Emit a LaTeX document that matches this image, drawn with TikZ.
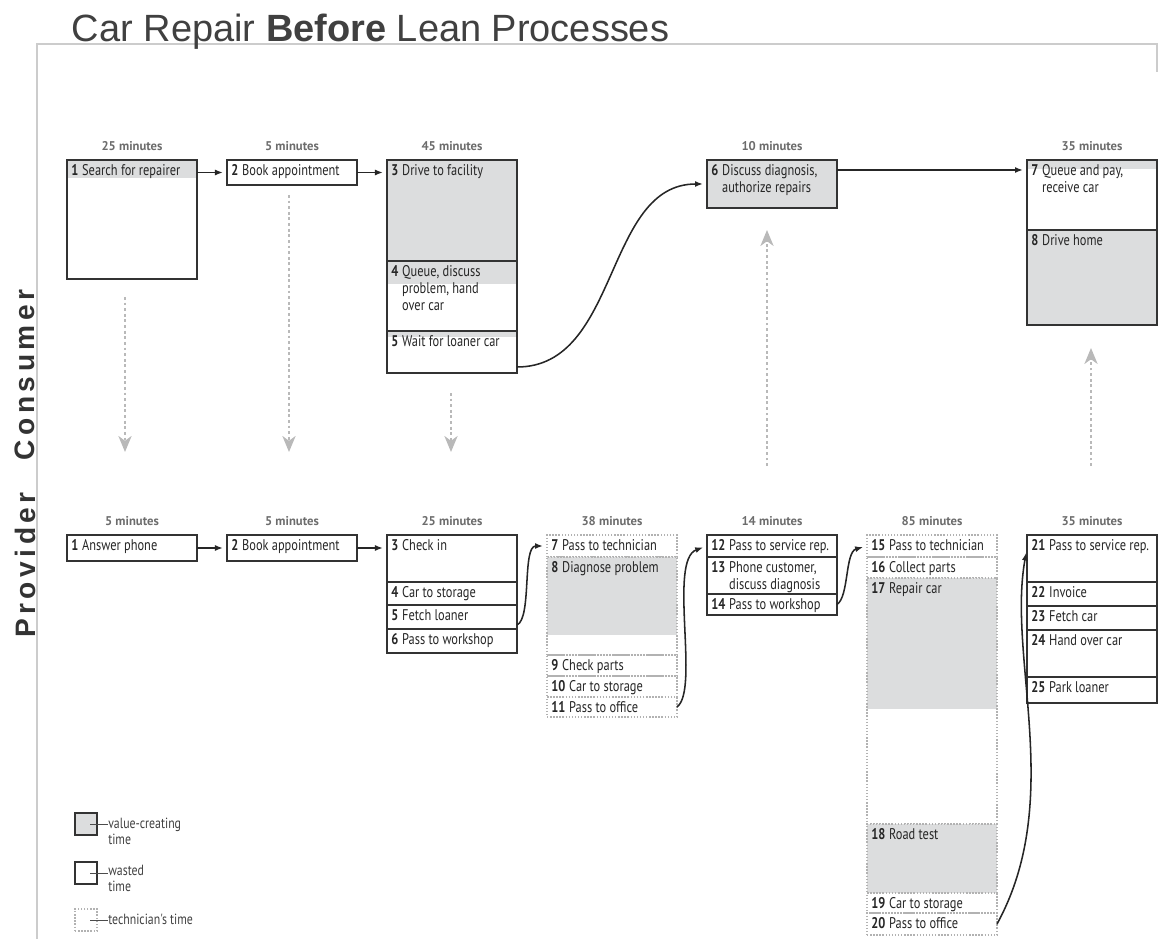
\documentclass[tikz,border=0pt]{standalone}
\usepackage{fontspec}
\setmainfont{Liberation Sans}
\newfontfamily\cellfont[FakeStretch=0.8]{PT Sans}
\newfontfamily\minfont{PT Sans}
\newfontfamily\sidefont[LetterSpace=16]{Liberation Sans}
\usetikzlibrary{arrows.meta, positioning}
\tikzset{> = { Latex[length = 2mm] }}
\definecolor{valgrey}{HTML}{DCDDDE}
\definecolor{boxline}{HTML}{333333}
\newdimen\px \px=0.025cm
\newcommand{\cellsize}{\cellfont\fontsize{11pt}{12pt}\selectfont}
\newcommand{\keysize}{\cellfont\fontsize{10.5pt}{11pt}\selectfont}
\newcommand{\minsize}{\minfont\bfseries\fontsize{9pt}{10pt}\selectfont}
\newcommand{\sidesize}{\sidefont\bfseries\fontsize{20pt}{22pt}\selectfont}
\newcommand{\titlesize}{\fontsize{27pt}{30pt}\selectfont}
\newcommand{\itm}[2]{\textbf{#1}\hspace{0.25em}\begin{tabular}[t]{@{}l@{}}#2\end{tabular}}

\begin{document}
\begin{tikzpicture}[x = 0.025cm, y = -0.025cm,
		cell/.style = { draw = boxline, line width = 1pt, inner sep = 0pt, outer sep = 0pt, minimum width = 130\px, minimum height = #1\px, anchor = north west },
		tech/.style = { cell = #1, draw = gray!60, line width = 0.8pt, dash pattern = on 1pt off 1.2pt },
		valpart/.style = { path picture = { \fill [valgrey] (path picture bounding box.north west) rectangle ([yshift = -#1\px] path picture bounding box.north east); } },
		txt/.style = { anchor = north west, inner xsep = 4\px, inner ysep = 3.5\px, font = \cellsize, text = black!85 },
		mins/.style = { font = \minsize, text = gray!85!black, inner sep = 0pt },
		flow/.style = { ->, draw = black!85, line width = 1.1pt, shorten > = 1mm },
		hint/.style = { draw = gray!55, line width = 1.2pt, dash pattern = on 2pt off 2pt, -{Stealth[length = 4mm, width = 3.3mm, inset = 1.2mm]} },
		side/.style = { font = \sidesize, text = black!80, rotate = 90 },
		keytxt/.style = { anchor = north west, align = left, inner sep = 0pt, font = \keysize, text = black!75 },
		keyline/.style = { draw = black!70, line width = 0.7pt },
		rim/.style = { draw = gray!40, line width = 0.8pt }]
	\useasboundingbox (0,0) rectangle (1160,939);
	\draw [rim] (37,939) -- (37,44) -- (1157,44) -- (1157,72);
	\node [anchor = base west, font = \titlesize, text = black!75] (title) at (67,42) {Car Repair \textbf{Before} Lean Processes};
	\node [side] (cons) at (25,375) {Consumer};
	\node [side] (prov) at (25,565) {Provider};

	\node [cell = 119, valpart = 18, label = {[txt]north west:\itm{1}{Search for repairer}}] (c1) at (67,160) {};
	\node [cell = 25, label = {[txt]north west:\itm{2}{Book appointment}}] (c2) at (227,160) {};
	\node [cell = 101, fill = valgrey, label = {[txt]north west:\itm{3}{Drive to facility}}] (c3) at (387,160) {};
	\node [cell = 70, valpart = 23, below = 0pt of c3, label = {[txt]north west:\itm{4}{Queue, discuss\\problem, hand\\over car}}] (c4) {};
	\node [cell = 42, valpart = 6, below = 0pt of c4, label = {[txt]north west:\itm{5}{Wait for loaner car}}] (c5) {};
	\node [cell = 48, fill = valgrey, label = {[txt]north west:\itm{6}{Discuss diagnosis,\\authorize repairs}}] (c6) at (707,160) {};
	\node [cell = 70, valpart = 9, label = {[txt]north west:\itm{7}{Queue and pay,\\receive car}}] (c7) at (1027,160) {};
	\node [cell = 95, fill = valgrey, below = 0pt of c7, label = {[txt]north west:\itm{8}{Drive home}}] (c8) {};

	\node [mins, above = 2.3mm of c1] (tc1) {25 minutes};
	\node [mins, above = 2.3mm of c2] (tc2) {5 minutes};
	\node [mins, above = 2.3mm of c3] (tc3) {45 minutes};
	\node [mins, above = 2.3mm of c6] (tc6) {10 minutes};
	\node [mins, above = 2.3mm of c7] (tc7) {35 minutes};

	\node [cell = 26, label = {[txt]north west:\itm{1}{Answer phone}}] (p1) at (67,535) {};
	\node [cell = 26, label = {[txt]north west:\itm{2}{Book appointment}}] (p2) at (227,535) {};
	\node [cell = 47, label = {[txt]north west:\itm{3}{Check in}}] (p3) at (387,535) {};
	\node [cell = 23, below = 0pt of p3, label = {[txt]north west:\itm{4}{Car to storage}}] (p4) {};
	\node [cell = 24, below = 0pt of p4, label = {[txt]north west:\itm{5}{Fetch loaner}}] (p5) {};
	\node [cell = 24, below = 0pt of p5, label = {[txt]north west:\itm{6}{Pass to workshop}}] (p6) {};

	\node [tech = 22, label = {[txt]north west:\itm{7}{Pass to technician}}] (p7) at (547,535) {};
	\node [tech = 98, valpart = 78, below = 0pt of p7, label = {[txt]north west:\itm{8}{Diagnose problem}}] (p8) {};
	\node [tech = 21, below = 0pt of p8, label = {[txt]north west:\itm{9}{Check parts}}] (p9) {};
	\node [tech = 21, below = 0pt of p9, label = {[txt]north west:\itm{10}{Car to storage}}] (p10) {};
	\node [tech = 20, below = 0pt of p10, label = {[txt]north west:\itm{11}{Pass to office}}] (p11) {};

	\node [cell = 22, label = {[txt]north west:\itm{12}{Pass to service rep.}}] (p12) at (707,535) {};
	\node [cell = 37, below = 0pt of p12, label = {[txt]north west:\itm{13}{Phone customer,\\discuss diagnosis}}] (p13) {};
	\node [cell = 21, below = 0pt of p13, label = {[txt]north west:\itm{14}{Pass to workshop}}] (p14) {};

	\node [tech = 22, label = {[txt]north west:\itm{15}{Pass to technician}}] (p15) at (867,535) {};
	\node [tech = 21, below = 0pt of p15, label = {[txt]north west:\itm{16}{Collect parts}}] (p16) {};
	\node [tech = 246, valpart = 131, below = 0pt of p16, label = {[txt]north west:\itm{17}{Repair car}}] (p17) {};
	\node [tech = 69, fill = valgrey, below = 0pt of p17, label = {[txt]north west:\itm{18}{Road test}}] (p18) {};
	\node [tech = 20, below = 0pt of p18, label = {[txt]north west:\itm{19}{Car to storage}}] (p19) {};
	\node [tech = 22, below = 0pt of p19, label = {[txt]north west:\itm{20}{Pass to office}}] (p20) {};

	\node [cell = 47, label = {[txt]north west:\itm{21}{Pass to service rep.}}] (p21) at (1027,535) {};
	\node [cell = 24, below = 0pt of p21, label = {[txt]north west:\itm{22}{Invoice}}] (p22) {};
	\node [cell = 24, below = 0pt of p22, label = {[txt]north west:\itm{23}{Fetch car}}] (p23) {};
	\node [cell = 47, below = 0pt of p23, label = {[txt]north west:\itm{24}{Hand over car}}] (p24) {};
	\node [cell = 26, below = 0pt of p24, label = {[txt]north west:\itm{25}{Park loaner}}] (p25) {};

	\node [mins, above = 2.3mm of p1] (tp1) {5 minutes};
	\node [mins, above = 2.3mm of p2] (tp2) {5 minutes};
	\node [mins, above = 2.3mm of p3] (tp3) {25 minutes};
	\node [mins, above = 2.3mm of p7] (tp7) {38 minutes};
	\node [mins, above = 2.3mm of p12] (tp12) {14 minutes};
	\node [mins, above = 2.3mm of p15] (tp15) {85 minutes};
	\node [mins, above = 2.3mm of p21] (tp21) {35 minutes};

	\draw [flow] (c1.east |- c2.east) -- (c2.west);
	\draw [flow] (c2.east) -- (c2.east -| c3.west);
	\draw [flow] ([yshift = 6\px] c5.south east) to [out = 0, in = 180] (c6.west);
	\draw [flow] ([yshift = -10\px] c6.north east) -- ([yshift = -10\px] c7.north west);

	\draw [flow] (p1.east) -- (p2.west);
	\draw [flow] (p2.east) -- (p2.east -| p3.west);
	\draw [flow] ([yshift = 4\px] p5.south east) .. controls +(15,-7) and +(-25,0) .. (p7.west);
	\draw [flow] (p11.east) .. controls +(23,-17) and +(-39,14) .. (p12.west);
	\draw [flow] (p14.east) .. controls +(12,-8) and +(-22,6) .. (p15.west);
	\draw [flow] (p20.east) .. controls +(68,-124) and +(-20,110) .. ([yshift = 10\px] p21.west);

	\path (125,297) coordinate (h1a) (125,452) coordinate (h1b)
		(289,195) coordinate (h2a) (289,452) coordinate (h2b)
		(451,393) coordinate (h3a) (451,452) coordinate (h3b)
		(767,466) coordinate (h4a) (767,230) coordinate (h4b)
		(1091,466) coordinate (h5a) (1091,348) coordinate (h5b);
	\draw [hint] (h1a) -- (h1b);
	\draw [hint] (h2a) -- (h2b);
	\draw [hint] (h3a) -- (h3b);
	\draw [hint] (h4a) -- (h4b);
	\draw [hint] (h5a) -- (h5b);

	\node [cell = 22, minimum width = 22\px, fill = valgrey] (k1) at (75,813) {};
	\node [cell = 22, minimum width = 22\px] (k2) at (75,862) {};
	\node [tech = 22, minimum width = 22\px] (k3) at (75,909) {};
	\node [keytxt] (kt1) at (108,818) {value-creating\\time};
	\node [keytxt] (kt2) at (108,865) {wasted\\time};
	\node [keytxt] (kt3) at (108,914) {technician's time};
	\draw [keyline] ([xshift = -7\px] k1.east) -- (k1.east -| kt1.west);
	\draw [keyline] ([xshift = -7\px] k2.east) -- (k2.east -| kt2.west);
	\draw [keyline] ([xshift = -7\px] k3.east) -- (k3.east -| kt3.west);
\end{tikzpicture}
\end{document}
